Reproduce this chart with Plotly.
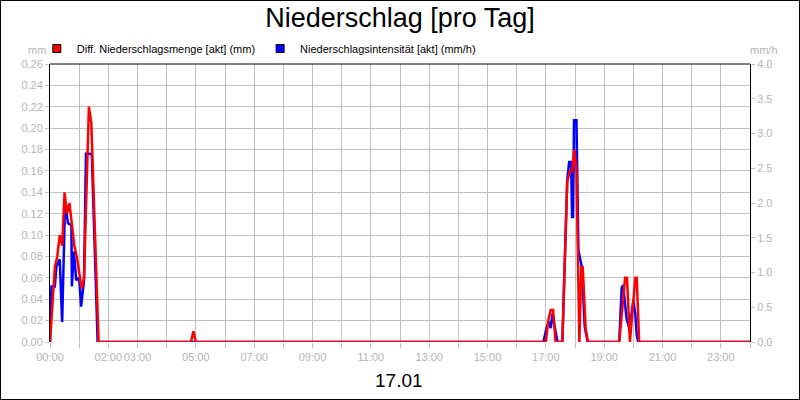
import pandas as pd
import plotly.graph_objects as go

# Day shown in the chart
DAY = pd.Timestamp("2025-01-17")

# Diff. Niederschlagsmenge [akt] (mm) - left axis
red_times = ["00:00", "00:05", "00:10", "00:15", "00:20", "00:25", "00:30", "00:35",
             "00:40", "00:45", "00:50", "00:55", "01:00", "01:05", "01:10", "01:15",
             "01:20", "01:25", "01:30", "01:35", "01:40",
             "04:50", "04:55", "05:00",
             "17:00", "17:05", "17:10", "17:15", "17:20",
             "17:34", "17:44", "17:50", "17:54", "17:59", "18:03", "18:09", "18:13",
             "18:16", "18:22", "18:27",
             "19:31", "19:43", "19:47", "19:53", "20:04", "20:07", "20:12", "24:00"]
red_vals = [0.0, 0.04, 0.07, 0.08, 0.10, 0.09, 0.14, 0.12,
            0.13, 0.11, 0.09, 0.08, 0.065, 0.05, 0.06, 0.15,
            0.22, 0.205, 0.135, 0.065, 0.0,
            0.0, 0.01, 0.0,
            0.0, 0.02, 0.03, 0.03, 0.0,
            0.0, 0.15, 0.16, 0.16, 0.18, 0.16, 0.0, 0.07,
            0.07, 0.012, 0.0,
            0.0, 0.06, 0.06, 0.0, 0.06, 0.06, 0.0, 0.0]

# Niederschlagsintensität [akt] (mm/h) - right axis
blue_times = ["00:00", "00:03", "00:10", "00:13", "00:20", "00:25", "00:31", "00:37",
              "00:44", "00:45", "00:49", "00:54", "01:00", "01:04", "01:10", "01:14",
              "01:22", "01:26", "01:38",
              "16:55", "17:02", "17:07", "17:10", "17:14", "17:17", "17:24",
              "17:34", "17:44", "17:48", "17:52", "17:54", "17:56", "17:58", "18:03",
              "18:07", "18:10", "18:14", "18:20", "18:26",
              "19:31", "19:36", "19:39", "19:43", "19:46", "19:50", "19:53", "19:56",
              "20:00", "20:04", "20:07", "20:10", "24:00"]
blue_vals = [0.0, 0.8, 0.8, 1.08, 1.19, 0.29, 2.0, 1.71,
             1.68, 0.8, 1.30, 0.89, 0.92, 0.51, 0.89, 2.71,
             2.71, 2.69, 0.0,
             0.0, 0.22, 0.29, 0.20, 0.41, 0.27, 0.0,
             0.0, 2.33, 2.59, 2.59, 1.80, 1.80, 3.19, 3.19,
             1.32, 1.23, 1.08, 0.22, 0.0,
             0.0, 0.78, 0.82, 0.58, 0.34, 0.24, 0.15, 0.39,
             0.60, 0.41, 0.10, 0.0, 0.0]

hour_labels = ["00:00", "", "02:00", "03:00", "", "05:00", "", "07:00", "", "09:00", "",
               "11:00", "", "13:00", "", "15:00", "", "17:00", "", "19:00", "", "21:00",
               "", "23:00", ""]

RED = "#ff0000"
BLUE = "#0000ff"
GRID = "#c0c0c0"
TICK_TXT = "#b4b4b4"
FONT = "Liberation Sans, Arial, sans-serif"


def to_time(hhmm):
    h, m = hhmm.split(":")
    return DAY + pd.Timedelta(minutes=int(h) * 60 + int(m))


red_x = [to_time(t) for t in red_times]
blue_x = [to_time(t) for t in blue_times]
hour_ticks = [DAY + pd.Timedelta(hours=h) for h in range(25)]

fig = go.Figure()

# blue sits on the base axis (right side), red on the overlay (left side) so red is drawn on top
fig.add_trace(go.Scatter(x=blue_x, y=blue_vals, yaxis="y", mode="lines",
                         line=dict(color=BLUE, width=2.5), showlegend=False))
fig.add_trace(go.Scatter(x=red_x, y=red_vals, yaxis="y2", mode="lines",
                         line=dict(color=RED, width=2.5), showlegend=False))

# legend entries as square markers
fig.add_trace(go.Scatter(x=[None], y=[None], mode="markers", name="Diff. Niederschlagsmenge [akt] (mm)",
                         marker=dict(symbol="square", size=8, color=RED, line=dict(color="black", width=1))))
fig.add_trace(go.Scatter(x=[None], y=[None], mode="markers", name="Niederschlagsintensität [akt] (mm/h)",
                         marker=dict(symbol="square", size=8, color=BLUE, line=dict(color="black", width=1))))

fig.update_layout(
    width=800, height=400,
    margin=dict(l=50, r=50, t=64, b=58, autoexpand=False),
    paper_bgcolor="white", plot_bgcolor="white",
    font=dict(family=FONT, size=11, color="black"),
    title=dict(text="Niederschlag [pro Tag]", x=0.5, xanchor="center", y=0.955, yanchor="middle",
               font=dict(size=27, color="black")),
    legend=dict(orientation="h", xref="container", yref="container", x=0.046, y=0.915,
                xanchor="left", yanchor="top", font=dict(size=11), bgcolor="rgba(0,0,0,0)",
                tracegroupgap=0),
    xaxis=dict(type="date", range=[hour_ticks[0], hour_ticks[-1]], tickmode="array",
               tickvals=hour_ticks, ticktext=hour_labels, tickangle=0, automargin=False,
               showgrid=True, gridcolor=GRID, gridwidth=1,
               ticks="outside", ticklen=5, tickcolor=GRID, tickfont=dict(color=TICK_TXT, size=11),
               showline=False, zeroline=False),
    yaxis=dict(range=[0, 4.0], dtick=0.5, tickformat=".1f", side="right", automargin=False,
               showgrid=False, ticks="outside", ticklen=4, tickcolor=GRID,
               tickfont=dict(color=TICK_TXT, size=11),
               showline=True, linecolor="black", linewidth=1, zeroline=False),
    yaxis2=dict(range=[0, 0.26], dtick=0.02, tickformat=".2f", overlaying="y", side="left",
                automargin=False, showgrid=True, gridcolor=GRID,
                ticks="outside", ticklen=4, tickcolor=GRID, tickfont=dict(color=TICK_TXT, size=11),
                showline=True, linecolor="black", linewidth=1, zeroline=False),
)

# top spine of the plot area
fig.add_shape(type="line", xref="paper", yref="paper", x0=0, x1=1, y0=1, y1=1,
              line=dict(color="black", width=1))
# frame round the whole picture
fig.add_shape(type="rect", xref="paper", yref="paper",
              x0=(0.5 - 50) / 700, x1=(799.5 - 50) / 700,
              y0=(342 - 399.5) / 278, y1=(342 - 0.5) / 278,
              line=dict(color="black", width=1))

fig.add_annotation(text="mm", xref="paper", yref="paper", x=(48 - 50) / 700, y=(342 - 50) / 278,
                   xanchor="right", yanchor="middle", showarrow=False,
                   font=dict(color=TICK_TXT, size=11))
fig.add_annotation(text="mm/h", xref="paper", yref="paper", x=(764 - 50) / 700, y=(342 - 50) / 278,
                   xanchor="center", yanchor="middle", showarrow=False,
                   font=dict(color=TICK_TXT, size=11))
fig.add_annotation(text="17.01", xref="paper", yref="paper", x=(399 - 50) / 700, y=(342 - 380) / 278,
                   xanchor="center", yanchor="middle", showarrow=False,
                   font=dict(color="black", size=19))

# the page body has a default 8px margin; remove it so the figure fills the window
fig.write_html("out.html", config={"displayModeBar": False},
               post_script="document.body.style.margin='0';")
